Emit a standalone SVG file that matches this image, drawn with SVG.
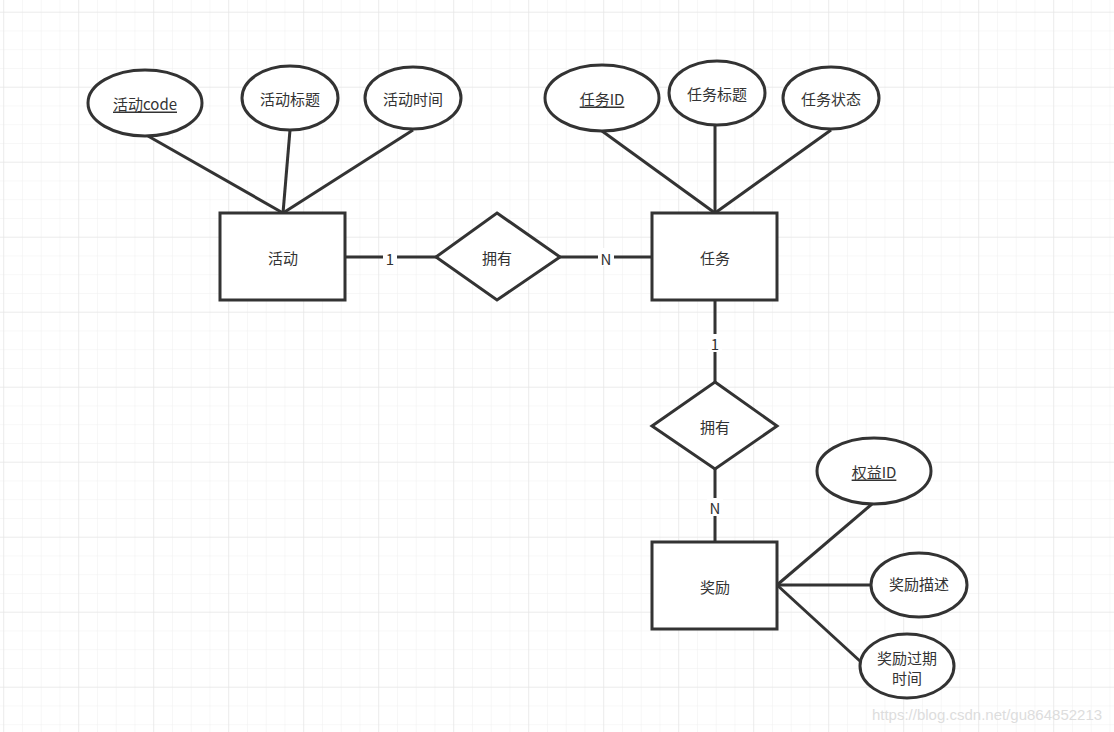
<svg xmlns="http://www.w3.org/2000/svg" width="1114" height="732" viewBox="0 0 1114 732">
<defs>
<pattern id="minor" x="3.2" y="11.7" width="18.75" height="18.75" patternUnits="userSpaceOnUse"><path d="M0 0H18.75M0 0V18.75" fill="none" stroke="#f0f0f0" stroke-width="1"/></pattern>
<pattern id="major" x="3.2" y="11.7" width="75" height="75" patternUnits="userSpaceOnUse"><path d="M0 0H75M0 0V75" fill="none" stroke="#e2e2e2" stroke-width="1"/></pattern>
</defs>
<style>
.s{fill:#fff;stroke:#333;stroke-width:3}
.c line{stroke:#333;stroke-width:3}
text{font-family:"Noto Sans CJK SC","Liberation Sans",sans-serif;font-size:15px;fill:#333;text-anchor:middle;dominant-baseline:central}
.u{text-decoration:underline}
.lb{fill:#fff;stroke:none}
</style>
<rect width="1114" height="732" fill="#fff"/>
<rect width="1114" height="732" fill="url(#minor)"/>
<rect width="1114" height="732" fill="url(#major)"/>
<g class="c" id="connectors">
<line x1="283" y1="213" x2="148" y2="136"/>
<line x1="283" y1="213" x2="290" y2="130"/>
<line x1="283" y1="213" x2="413" y2="130"/>
<line x1="715" y1="213" x2="602" y2="131"/>
<line x1="715" y1="213" x2="715" y2="125"/>
<line x1="715" y1="213" x2="831" y2="130"/>
<line x1="345" y1="257" x2="436" y2="257"/>
<line x1="560" y1="257" x2="652" y2="257"/>
<line x1="715" y1="300" x2="715" y2="382"/>
<line x1="715" y1="469" x2="715" y2="542"/>
<line x1="777" y1="585" x2="872" y2="504"/>
<line x1="777" y1="585" x2="871" y2="585"/>
<line x1="777" y1="585" x2="861" y2="662"/>
<rect class="lb" x="383" y="248" width="14" height="18"/>
<text x="390" y="258">1</text>
<rect class="lb" x="598" y="248" width="16" height="18"/>
<text x="606" y="258">N</text>
<rect class="lb" x="708" y="334" width="14" height="18"/>
<text x="715" y="343">1</text>
<rect class="lb" x="707" y="498" width="16" height="18"/>
<text x="715" y="507">N</text>
</g>
<g id="huodong"><rect class="s" x="220" y="213" width="125" height="87"/><text x="283" y="257">活动</text></g>
<g id="renwu"><rect class="s" x="652" y="213" width="125" height="87"/><text x="715" y="257">任务</text></g>
<g id="jiangli"><rect class="s" x="652" y="542" width="125" height="87"/><text x="715" y="586">奖励</text></g>
<g id="yongyou1"><polygon class="s" points="497,213 560,257 497,300 436,257"/><text x="497" y="257">拥有</text></g>
<g id="yongyou2"><polygon class="s" points="715,382 777,426 715,469 652,426"/><text x="715" y="426">拥有</text></g>
<g id="a1"><ellipse class="s" cx="145" cy="103" rx="57" ry="33"/><text class="u" x="145" y="103">活动code</text></g>
<g id="a2"><ellipse class="s" cx="290" cy="98" rx="48" ry="32"/><text x="290" y="98">活动标题</text></g>
<g id="a3"><ellipse class="s" cx="413" cy="98" rx="48" ry="31"/><text x="413" y="98">活动时间</text></g>
<g id="b1"><ellipse class="s" cx="602" cy="98" rx="57" ry="33"/><text class="u" x="602" y="98">任务ID</text></g>
<g id="b2"><ellipse class="s" cx="717" cy="93" rx="48" ry="32"/><text x="717" y="93">任务标题</text></g>
<g id="b3"><ellipse class="s" cx="831" cy="98" rx="48" ry="31"/><text x="831" y="98">任务状态</text></g>
<g id="c1"><ellipse class="s" cx="874" cy="471" rx="57" ry="33"/><text class="u" x="874" y="471">权益ID</text></g>
<g id="c2"><ellipse class="s" cx="919" cy="585" rx="48" ry="32"/><text x="919" y="583">奖励描述</text></g>
<g id="c3"><ellipse class="s" cx="907" cy="666" rx="47" ry="32"/><text x="907" y="657">奖励过期</text><text x="907" y="677">时间</text></g>
<text x="987" y="714" style="font-family:'Liberation Sans',sans-serif;font-size:15px;fill:#ddd">https://blog.csdn.net/gu864852213</text>
</svg>
